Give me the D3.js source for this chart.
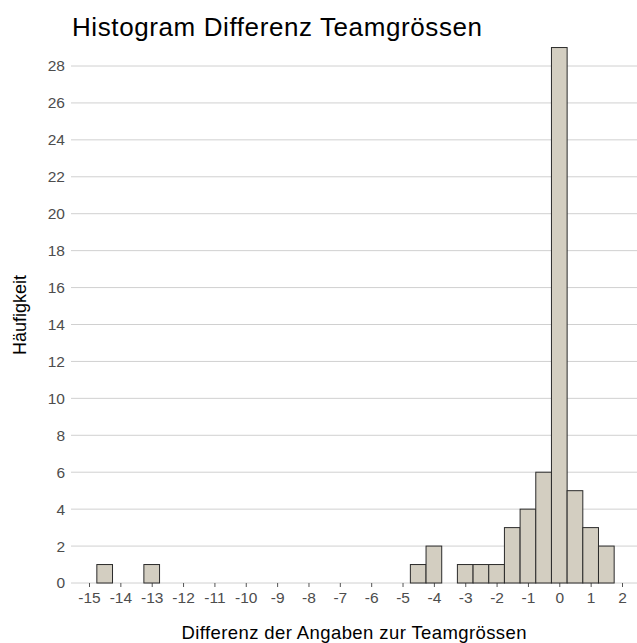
<!DOCTYPE html>
<html>
<head>
<meta charset="utf-8">
<script src="https://cdn.jsdelivr.net/npm/d3@7"></script>
<style>
  body { margin: 0; background: #fff; }
  text { font-family: "Liberation Sans", Arial, sans-serif; }
</style>
</head>
<body>
<svg id="chart"></svg>
<script>
// bin centres (width 0.5) and counts
const binCenters = [-14.5, -14, -13.5, -13, -12.5, -12, -11.5, -11, -10.5, -10, -9.5, -9,
  -8.5, -8, -7.5, -7, -6.5, -6, -5.5, -5, -4.5, -4, -3.5, -3, -2.5, -2, -1.5, -1, -0.5, 0, 0.5, 1, 1.5];
const counts = [1, 0, 0, 1, 0, 0, 0, 0, 0, 0, 0, 0,
  0, 0, 0, 0, 0, 0, 0, 0, 1, 2, 0, 1, 1, 1, 3, 4, 6, 29, 5, 3, 2];
const xTicks = d3.range(-15, 3, 1);
const yTicks = d3.range(0, 30, 2);
const binWidth = 0.5;

const width = 637;
const height = 643;

const svg = d3.select('svg#chart').attr('width', width).attr('height', height);

const x = d3.scaleLinear().domain([-15, 2]).range([89, 622]);
const y = d3.scaleLinear().domain([0, 28]).range([583, 66]);

const panelLeft = 71;
const panelRight = 637;

// horizontal gridlines
svg.append('g')
  .selectAll('line')
  .data(yTicks)
  .enter().append('line')
  .attr('x1', panelLeft)
  .attr('x2', panelRight)
  .attr('y1', d => y(d))
  .attr('y2', d => y(d))
  .attr('stroke', '#d0d0d0')
  .attr('stroke-width', 1);

// y axis labels
const yAxis = d3.axisLeft(y).tickValues(yTicks).tickSize(0).tickPadding(6)
  .tickFormat(d => String(d));
const yG = svg.append('g').attr('transform', `translate(${panelLeft},0)`).call(yAxis);
yG.select('.domain').remove();
yG.selectAll('text').attr('font-size', 15.5).attr('fill', '#4d4d4d')
  .attr('font-family', '"Liberation Sans", Arial, sans-serif');

// x axis ticks + labels (plain hyphen, like the original)
const xAxis = d3.axisBottom(x).tickValues(xTicks).tickSize(4).tickPadding(5)
  .tickFormat(d => String(d));
const xG = svg.append('g').attr('transform', `translate(0,${y(0)})`).call(xAxis);
xG.select('.domain').remove();
xG.selectAll('line').attr('stroke', '#555');
xG.selectAll('text').attr('font-size', 15.5).attr('fill', '#4d4d4d')
  .attr('font-family', '"Liberation Sans", Arial, sans-serif');

// bars
svg.append('g')
  .selectAll('rect')
  .data(binCenters)
  .enter().append('rect')
  .attr('x', d => x(d - binWidth / 2))
  .attr('width', d => x(d + binWidth / 2) - x(d - binWidth / 2))
  .attr('y', (d, i) => y(counts[i]))
  .attr('height', (d, i) => y(0) - y(counts[i]))
  .attr('fill', '#d3cec1')
  .attr('stroke', '#2b2b2b')
  .attr('stroke-width', 1);

// title
svg.append('text')
  .attr('x', 72)
  .attr('y', 36)
  .attr('font-size', 26)
  .attr('fill', '#000')
  .attr('textLength', 410)
  .attr('lengthAdjust', 'spacing')
  .text('Histogram Differenz Teamgrössen');

// axis titles
svg.append('text')
  .attr('x', 354)
  .attr('y', 639)
  .attr('text-anchor', 'middle')
  .attr('font-size', 18.5)
  .attr('fill', '#000')
  .attr('textLength', 345)
  .attr('lengthAdjust', 'spacing')
  .text('Differenz der Angaben zur Teamgrössen');

svg.append('text')
  .attr('transform', 'translate(26,315) rotate(-90)')
  .attr('text-anchor', 'middle')
  .attr('font-size', 18)
  .attr('fill', '#000')
  .text('Häufigkeit');
</script>
</body>
</html>
